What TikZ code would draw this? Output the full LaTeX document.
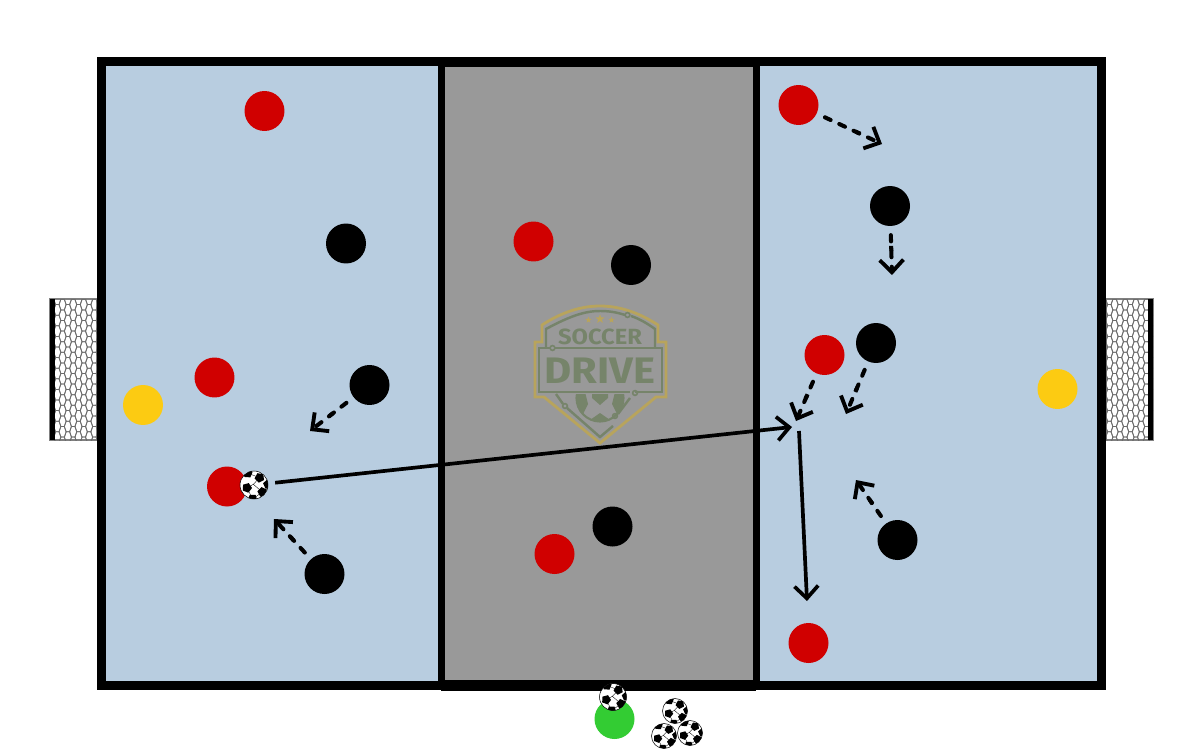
\documentclass[tikz,border=0pt]{standalone}
\usepackage{fontspec}
\setmainfont{Fira Sans}
\usetikzlibrary{arrows.meta,shapes.geometric}
\definecolor{fieldblue}{HTML}{B8CDE0}
\definecolor{zonegray}{HTML}{999999}
\definecolor{redteam}{HTML}{D00000}
\definecolor{keeper}{HTML}{FCCB12}
\definecolor{server}{HTML}{33CC33}
\definecolor{logogold}{HTML}{B8A45C}
\definecolor{logogreen}{HTML}{76846A}
\newcommand{\spotpt}[2]{({#1*(\spotx+0.36*cos(#2+\spotrot))},{#1*(\spoty+0.36*sin(#2+\spotrot))})}
\newcommand{\ballspots}[1]{
 \foreach \spotx/\spoty/\spotrot in {0.40/-0.52/10,-0.50/0.20/-15,0.60/0.50/25,-0.45/-0.85/40,-0.10/1.00/0,1.00/-0.05/30}
  \fill[black] \spotpt{#1}{90}--\spotpt{#1}{162}--\spotpt{#1}{234}--\spotpt{#1}{306}--\spotpt{#1}{18}--cycle;
 \draw[black,line width=0.2pt] (#1*0.40,#1*-0.52)--(#1*-0.05,#1*-0.05)--(#1*-0.50,#1*0.20) (#1*-0.05,#1*-0.05)--(#1*0.60,#1*0.50) (#1*0.40,#1*-0.52)--(#1*-0.45,#1*-0.85) (#1*0.60,#1*0.50)--(#1*-0.10,#1*1.00)--(#1*-0.50,#1*0.20);
}
\newcommand{\netcells}[1]{
 \foreach \col in {0,...,9}
  \foreach \row in {0,...,14}{
   \pgfmathsetmacro{\cx}{#1+5.3*\col}
   \pgfmathsetmacro{\cy}{294+10.6*\row+5.3*mod(\col,2)}
   \draw[gray!85!black,line width=0.45pt] (\cx-3.6,\cy)--(\cx-1.8,\cy-5.3)--(\cx+1.8,\cy-5.3)--(\cx+3.6,\cy)--(\cx+1.8,\cy+5.3)--(\cx-1.8,\cy+5.3)--cycle;
  }
}
\tikzset{
 player/.style={circle,minimum size=0.8cm,inner sep=0pt,fill=#1},
 ball/.style={circle,draw=black,line width=0.3pt,fill=white,minimum size=#1*0.04cm,inner sep=0pt,path picture={\ballspots{#1}}},
 run/.style={line width=2.3pt,line cap=round,dash pattern=on 3.6pt off 5.4pt,-{Butt Cap[sep=4pt]Straight Barb[length=7pt,width=13.5pt,line width=2.2pt]},shorten <=5pt},
 pass/.style={line width=2.1pt,-{Straight Barb[length=7pt,width=13.5pt,line width=2.1pt]}},
 goalnet/.style={draw=gray,line width=0.6pt,fill=white},
 logostar/.style={star,star points=5,star point ratio=2.4,fill=logogold,inner sep=0pt},
}
\begin{document}
\begin{tikzpicture}[x=0.02cm,y=-0.02cm]
 \useasboundingbox (0,0) rectangle (1200,750);
 % goals
 \draw[goalnet](50,299) rectangle (97,440);
 \begin{scope}
  \clip (50,299) rectangle (97,440);
  \netcells{52}
 \end{scope}
 \fill[black](50,299) rectangle (55,440);
 \draw[goalnet](1106,299) rectangle (1153,440);
 \begin{scope}
  \clip (1106,299) rectangle (1153,440);
  \netcells{1104}
 \end{scope}
 \fill[black](1148,299) rectangle (1153,440);
 % field
 \fill[fieldblue](101,62) rectangle (1102,685);
 \fill[zonegray](441,62) rectangle (756,685);
 \draw[black,line width=0.18cm](101.5,61.5) rectangle (1101.5,685);
 \draw[black,line width=0.14cm](441,62)--(441,685);
 \draw[black,line width=0.14cm](756,62)--(756,685);
 \draw[black,line width=0.22cm](441,62)--(756,62);
 \draw[black,line width=0.22cm](441,685)--(756,685);
 % logo
 \draw[logogold,line width=1.6pt,line join=miter](535,342)--(542,342)--(542,325) .. controls (565,310) and (585,306) .. (600,306) .. controls (615,306) and (635,310) .. (658,325)--(658,342)--(666,342)--(666,397)--(656,397)--(600,443)--(544,397)--(535,397)--cycle;
 \draw[logogreen,line width=1.4pt](546,348)--(546,329) .. controls (570,316) and (585,311) .. (600,311) .. controls (608,311) and (616,312) .. (625,315);
 \draw[logogreen,line width=1.4pt](631,316) .. controls (640,319) and (648,324) .. (655,329)--(655,348);
 \draw[logogreen,line width=1.4pt](555,348)--(662,348)--(662,392)--(635,392);
 \draw[logogreen,line width=1.4pt](630,392)--(539,392)--(539,348)--(550,348);
 \draw[logogreen,line width=1.4pt](556,394)--(563,404) (567,408)--(600,437)--(613,426) (618,414)--(630,398);
 \draw[logogreen,line width=0.9pt](552.5,348) circle (2.4);
 \draw[logogreen,line width=0.9pt](627.5,315) circle (2.4);
 \draw[logogreen,line width=0.9pt](635,393) circle (2.4);
 \draw[logogreen,line width=0.9pt](565,406) circle (2.4);
 \draw[logogreen,line width=0.9pt](615,416) circle (2.4);
 \begin{scope}
  \clip (570,394) rectangle (630,430);
  \draw[logogreen,line width=1.2pt](600,398) circle (23.5);
  \clip (600,398) circle (24);
  \fill[logogreen](574,392)--(585,392)--(588,404)--(583,414)--(574,420)--cycle;
  \fill[logogreen](626,392)--(615,392)--(612,404)--(617,414)--(626,420)--cycle;
  \fill[logogreen](592,392)--(608,392)--(608,398)--(600,405)--(592,398)--cycle;
  \fill[logogreen](600,413)--(610,420)--(610,426)--(590,426)--(590,420)--cycle;
 \end{scope}
 \node[logostar,minimum size=0.13cm] (stara) at (588.5,320) {};
 \node[logostar,minimum size=0.19cm] (starb) at (600,319) {};
 \node[logostar,minimum size=0.13cm] (starc) at (611.5,320) {};
 \node[text=logogreen,inner sep=0pt,xscale=1.08] (soccer) at (600,336.5) {\fontsize{12.5}{13}\selectfont\bfseries SOCCER};
 \node[text=logogreen,inner sep=0pt,xscale=1.13] (drive) at (600,371) {\fontsize{21}{22}\selectfont\bfseries DRIVE};
 % left half
 \node[player=redteam] (redla) at (264.5,111) {};
 \node[player=redteam] (redlb) at (214.5,377.5) {};
 \node[player=redteam] (redlc) at (227,486.5) {};
 \node[player=black] (blackla) at (346,243.5) {};
 \node[player=black] (blacklb) at (369.5,385) {};
 \node[player=black] (blacklc) at (324.5,574) {};
 \node[player=keeper] (keepl) at (143,405) {};
 \node[ball=14] (ballc) at (254,485) {};
 % middle
 \node[player=redteam] (redma) at (533.5,241.5) {};
 \node[player=redteam] (redmb) at (554.5,554) {};
 \node[player=black] (blackma) at (631,265) {};
 \node[player=black] (blackmb) at (612.5,526.5) {};
 % right half
 \node[player=redteam] (redra) at (798.5,105) {};
 \node[player=redteam] (redrb) at (824.5,355) {};
 \node[player=redteam] (redrc) at (808.5,643) {};
 \node[player=black] (blackra) at (890,206) {};
 \node[player=black] (blackrb) at (876,343) {};
 \node[player=black] (blackrc) at (897.5,540) {};
 \node[player=keeper] (keepr) at (1057.5,389) {};
 % server and spare balls
 \node[player=server] (serve) at (614.5,719) {};
 \node[ball=13.5] (balls) at (613,697) {};
 \node[ball=12.5] (balla) at (675,711) {};
 \node[ball=12.5] (ballb) at (664,736) {};
 \node[ball=12.5] (balld) at (690,733) {};
 % runs and passes
 \coordinate (runla) at (310,431);
 \coordinate (runlb) at (274,519);
 \coordinate (runra) at (882,144);
 \coordinate (runrb) at (892,275);
 \coordinate (runrc) at (796,421);
 \coordinate (runrd) at (846,414);
 \coordinate (runre) at (856,480);
 \coordinate (passa) at (792,427);
 \coordinate (passb) at (799,431);
 \coordinate (passc) at (807,601);
 \draw[run](blacklb)--(runla);
 \draw[run](blacklc)--(runlb);
 \draw[run](redra)--(runra);
 \draw[run](blackra)--(runrb);
 \draw[run](redrb)--(runrc);
 \draw[run](blackrb)--(runrd);
 \draw[run](blackrc)--(runre);
 \draw[pass,shorten <=4pt](ballc)--(passa);
 \draw[pass](passb)--(passc);
\end{tikzpicture}
\end{document}
